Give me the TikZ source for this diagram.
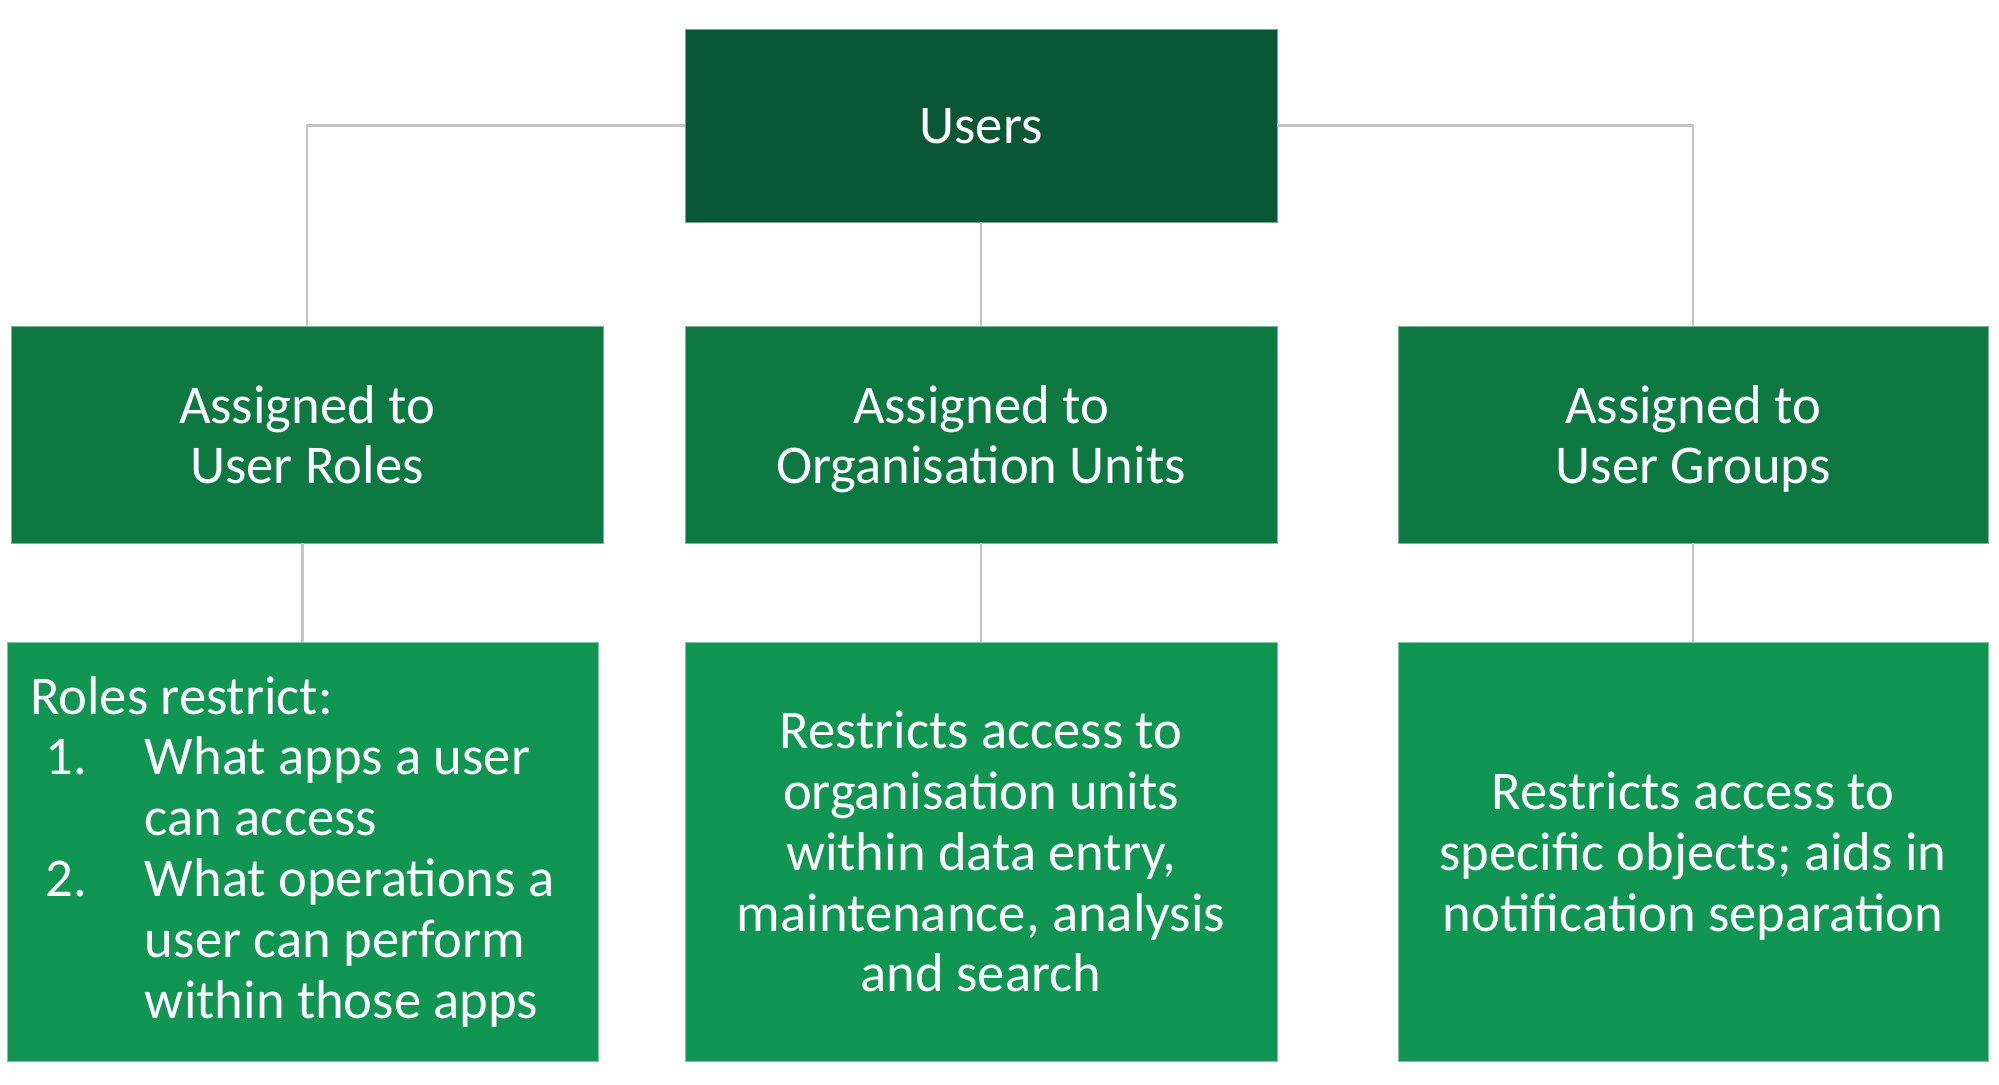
\documentclass[tikz,border=0pt]{standalone}
\usepackage{fontspec}
\setmainfont{Carlito}
\definecolor{topfill}{HTML}{0A5735}
\definecolor{midfill}{HTML}{0E7843}
\definecolor{botfill}{HTML}{109553}
\definecolor{conngray}{HTML}{C4C4C4}
\begin{document}
\begin{tikzpicture}[x=1pt,y=-1pt,
  box/.style={rectangle, fill=#1, draw=#1!55!white, line width=0.8pt,
    text=white, inner sep=0pt, align=center,
    font=\fontsize{54.6}{60.8}\selectfont},
  ctr/.style={text depth=0pt},
  conn/.style={draw=conngray, line width=2.4pt}]
\useasboundingbox (0,0) rectangle (1999,1084);

\node[box=topfill, ctr, minimum width=592, minimum height=193] (users) at (981,125.5) {Users};

\node[box=midfill, ctr, minimum width=592, minimum height=217] (ml) at (307,434.5) {Assigned to\\User Roles};
\node[box=midfill, ctr, minimum width=592, minimum height=217] (mm) at (981,434.5) {Assigned to\\Organisation Units};
\node[box=midfill, ctr, minimum width=590, minimum height=217] (mr) at (1693,434.5) {Assigned to\\User Groups};

\node[box=botfill, minimum width=591, minimum height=419, text width=545, inner xsep=23, align=flush left] (bl) at (302.5,851.5)
 {Roles restrict:\\
  \hspace*{16pt}\makebox[99pt][l]{1.}What apps a user\\
  \hspace*{115pt}can access\\
  \hspace*{16pt}\makebox[99pt][l]{2.}What operations a\\
  \hspace*{115pt}user can perform\\
  \hspace*{115pt}within those apps};
\node[box=botfill, ctr, minimum width=592, minimum height=419] (bm) at (981,851.5)
 {Restricts access to\\organisation units\\within data entry,\\maintenance, analysis\\and search};
\node[box=botfill, ctr, minimum width=590, minimum height=419] (br) at (1693,851.5)
 {Restricts access to\\specific objects; aids in\\notification separation};

\draw[conn] (users.west) -| (ml.north);
\draw[conn] (users.east) -| (mr.north);
\draw[conn] (users.south) -- (mm.north);
\draw[conn] (bl.north) -- (bl.north |- ml.south);
\draw[conn] (mm.south) -- (bm.north);
\draw[conn] (mr.south) -- (br.north);
\end{tikzpicture}
\end{document}
